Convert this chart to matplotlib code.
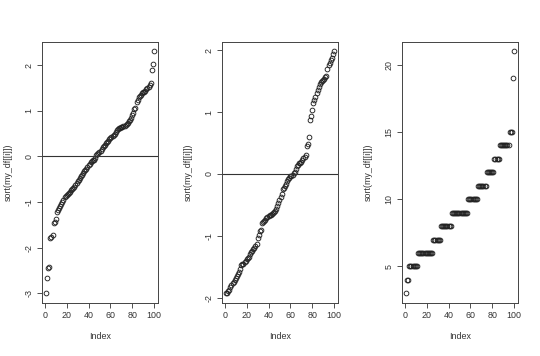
import matplotlib
matplotlib.use("Agg")
import matplotlib.pyplot as plt
import numpy as np

plt.rcParams['font.family'] = ['Liberation Sans', 'DejaVu Sans']

index = list(range(1, 101))

series1 = [-3.00, -2.66, -2.44, -2.42, -1.79, -1.77, -1.72, -1.47, -1.43, -1.38,
           -1.21, -1.17, -1.12, -1.09, -1.05, -1.00, -0.95, -0.90, -0.87, -0.84,
           -0.82, -0.80, -0.77, -0.74, -0.72, -0.70, -0.66, -0.62, -0.58, -0.55,
           -0.51, -0.48, -0.44, -0.40, -0.36, -0.33, -0.30, -0.27, -0.23, -0.19,
           -0.16, -0.13, -0.11, -0.09, -0.07, -0.04, 0.03, 0.06, 0.08, 0.10,
           0.12, 0.16, 0.20, 0.23, 0.26, 0.29, 0.31, 0.34, 0.37, 0.40,
           0.42, 0.44, 0.46, 0.49, 0.54, 0.58, 0.60, 0.62, 0.63, 0.64,
           0.65, 0.66, 0.67, 0.68, 0.70, 0.73, 0.77, 0.80, 0.83, 0.90,
           0.95, 1.03, 1.05, 1.20, 1.24, 1.29, 1.32, 1.35, 1.38, 1.40,
           1.42, 1.44, 1.48, 1.50, 1.53, 1.57, 1.60, 1.90, 2.02, 2.30]

series2 = [-1.93, -1.92, -1.90, -1.88, -1.83, -1.79, -1.77, -1.74, -1.71, -1.68,
           -1.65, -1.62, -1.58, -1.53, -1.48, -1.46, -1.45, -1.43, -1.40, -1.38,
           -1.36, -1.34, -1.30, -1.27, -1.25, -1.22, -1.19, -1.16, -1.13, -1.03,
           -0.98, -0.92, -0.90, -0.79, -0.77, -0.76, -0.74, -0.72, -0.70, -0.68,
           -0.67, -0.66, -0.65, -0.64, -0.62, -0.60, -0.57, -0.52, -0.47, -0.42,
           -0.37, -0.32, -0.25, -0.22, -0.20, -0.17, -0.12, -0.08, -0.06, -0.04,
           -0.03, -0.01, 0.01, 0.03, 0.08, 0.13, 0.15, 0.17, 0.18, 0.20,
           0.22, 0.25, 0.28, 0.30, 0.45, 0.48, 0.60, 0.87, 0.93, 1.04,
           1.14, 1.20, 1.25, 1.30, 1.35, 1.40, 1.46, 1.48, 1.50, 1.52,
           1.54, 1.56, 1.58, 1.70, 1.76, 1.80, 1.84, 1.88, 1.93, 1.98]

series3 = [3, 4, 4, 5, 5, 5, 5, 5, 5, 5,
           5, 6, 6, 6, 6, 6, 6, 6, 6, 6,
           6, 6, 6, 6, 6, 7, 7, 7, 7, 7,
           7, 7, 8, 8, 8, 8, 8, 8, 8, 8,
           8, 8, 9, 9, 9, 9, 9, 9, 9, 9,
           9, 9, 9, 9, 9, 9, 9, 10, 10, 10,
           10, 10, 10, 10, 10, 10, 11, 11, 11, 11,
           11, 11, 11, 11, 12, 12, 12, 12, 12, 12,
           12, 13, 13, 13, 13, 13, 14, 14, 14, 14,
           14, 14, 14, 14, 14, 15, 15, 15, 19, 21]

xticks = [0, 20, 40, 60, 80, 100]
yticks_list = [[-3, -2, -1, 0, 1, 2], [-2, -1, 0, 1, 2], [5, 10, 15, 20]]
all_series = [series1, series2, series3]
hlines = [True, True, False]

fig = plt.figure(figsize=(5.4, 3.56), dpi=100)
lefts = [41.7 / 540, 221.7 / 540, 401.7 / 540]
width = 116.6 / 540
bottom = 1 - 303 / 356
height = (303 - 41.7) / 356
fs = 6.4

for left, s, yt, hl in zip(lefts, all_series, yticks_list, hlines):
    ax = fig.add_axes([left, bottom, width, height])
    ax.plot(index, s, linestyle='none', marker='o', markersize=3.4,
            markerfacecolor='none', markeredgecolor='#222222', markeredgewidth=0.65)
    xr = 99 * 0.04
    ax.set_xlim(1 - xr, 100 + xr)
    lo, hi = min(s), max(s)
    yr = (hi - lo) * 0.04
    ax.set_ylim(lo - yr, hi + yr)
    if hl:
        ax.axhline(0, color='#333333', lw=0.8)
    ax.set_xticks(xticks)
    ax.set_yticks(yt)
    ax.set_yticklabels([str(v) for v in yt], rotation=90, va='center')
    ax.tick_params(axis='both', length=3.5, width=0.6, labelsize=fs,
                   colors='#333333', pad=2.5)
    for sp in ax.spines.values():
        sp.set_linewidth(0.7)
        sp.set_color('#444444')
    ax.set_xlabel('Index', fontsize=fs, color='#333333', labelpad=8.5)
    ax.set_ylabel('sort(my_df[[i]])', fontsize=fs, color='#333333', labelpad=8.5)

fig.savefig('out.png', dpi=100)
